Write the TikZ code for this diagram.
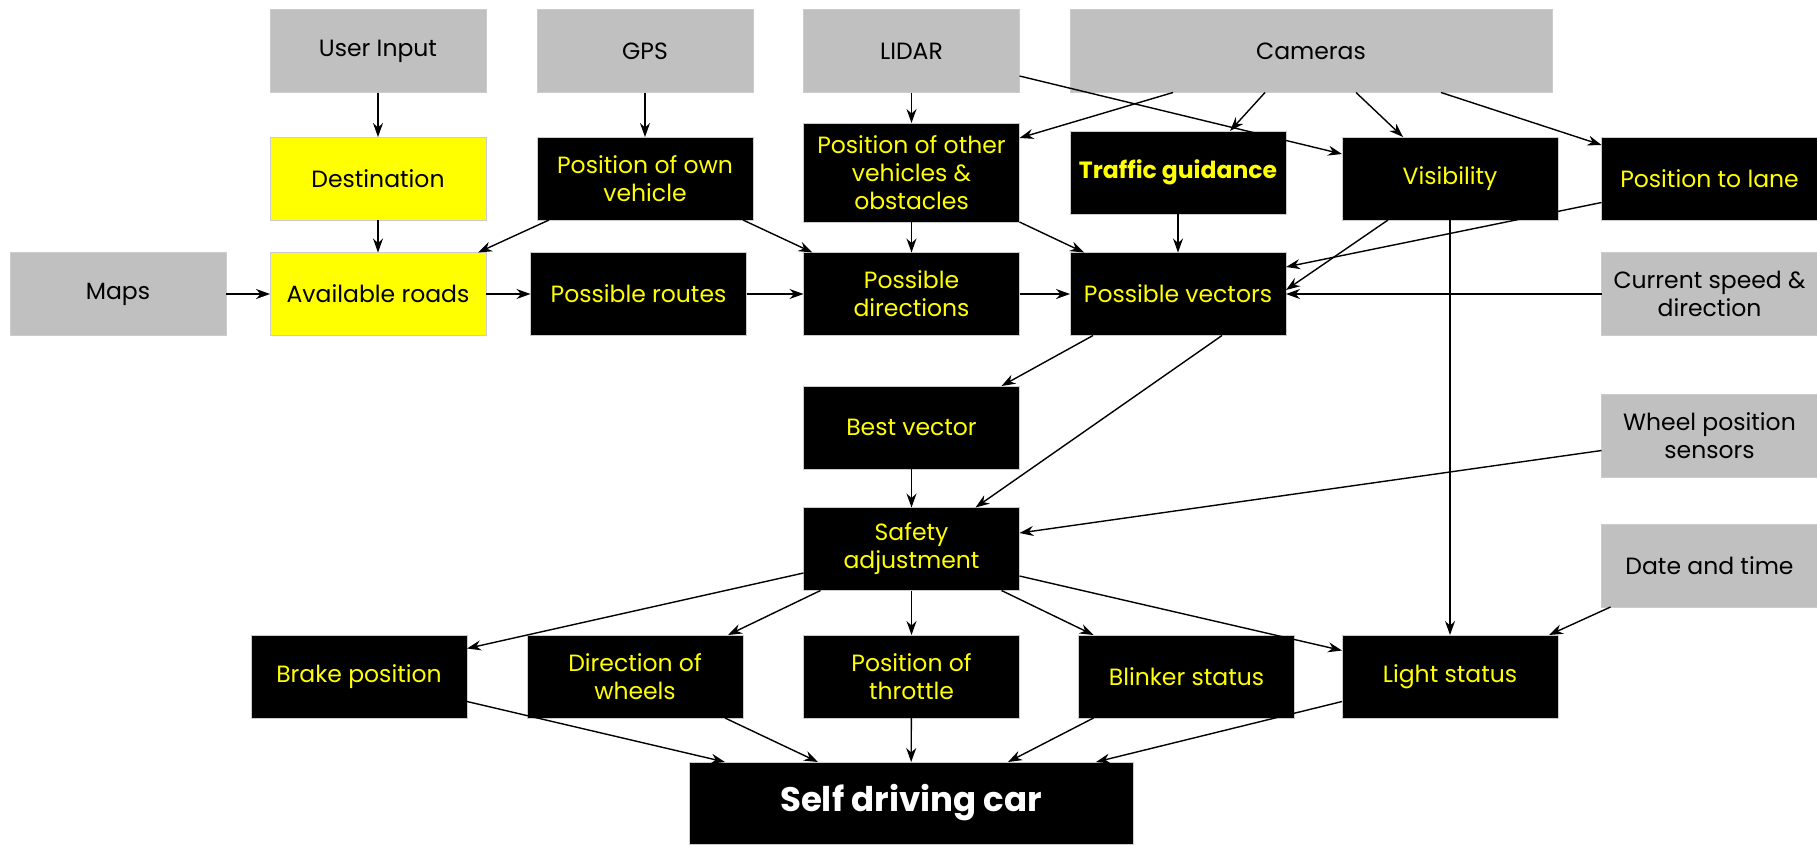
\documentclass[tikz,border=0pt]{standalone}
\usepackage{fontspec}
\setmainfont{Poppins}
\usepackage{xcolor}
\usetikzlibrary{
    arrows.meta,
    shapes,
    positioning,
    calc
}
\definecolor{boxgray}{HTML}{C0C0C0}
\definecolor{boxyellow}{HTML}{FFFF00}
\definecolor{textyellow}{HTML}{FFFF00}

\begin{document}
\begin{tikzpicture}[x=1pt, y=-1pt, >={Stealth[length=14pt, width=10pt]}, line width=1.4pt,
    box/.style={
        rectangle, minimum width=216pt, minimum height=83pt, inner sep=0pt, outer sep=0pt,
        align=center, draw=gray!40, line width=0.6pt, font=\fontsize{23.5}{28}\selectfont},
    in-node/.style={box, fill=boxgray, text=black},
    goal-node/.style={box, fill=boxyellow, text=black},
    mid-node/.style={box, fill=black, text=textyellow}]
    \useasboundingbox (0,0) rectangle (1817,844);
    \node[in-node] (userin) at (378,51) {User Input};
    \node[in-node] (gps) at (645,51) {GPS};
    \node[in-node] (lidar) at (911.5,51) {LIDAR};
    \node[in-node, minimum width=482pt] (cams) at (1311,51) {Cameras};
    \node[goal-node] (dest) at (378,178.5) {Destination};
    \node[mid-node] (ownpos) at (645,178.5) {Position of own\\vehicle};
    \node[mid-node, minimum height=99pt] (otherpos) at (911.5,172.5) {Position of other\\vehicles \&\\obstacles};
    \node[mid-node, font=\fontsize{23.5}{28}\selectfont\bfseries] (traffic) at (1178,172.5) {Traffic guidance};
    \node[mid-node] (visib) at (1450,178.5) {Visibility};
    \node[mid-node] (lanepos) at (1709.5,178.5) {Position to lane};
    \node[in-node] (maps) at (118,294) {Maps};
    \node[goal-node] (roads) at (378,294) {Available roads};
    \node[mid-node] (routes) at (638.5,294) {Possible routes};
    \node[mid-node] (dirs) at (911.5,294) {Possible\\directions};
    \node[mid-node] (vectors) at (1178,294) {Possible vectors};
    \node[in-node] (speed) at (1709.5,294) {Current speed \&\\direction};
    \node[mid-node] (best) at (911.5,427.5) {Best vector};
    \node[in-node] (wheelsens) at (1709.5,435.5) {Wheel position\\sensors};
    \node[mid-node] (safety) at (911.5,549) {Safety\\adjustment};
    \node[in-node] (datetime) at (1709.5,565.5) {Date and time};
    \node[mid-node] (brake) at (359,676.5) {Brake position};
    \node[mid-node] (dirwheels) at (635,676.5) {Direction of\\wheels};
    \node[mid-node] (throttle) at (911.5,676.5) {Position of\\throttle};
    \node[mid-node] (blinker) at (1186.5,676.5) {Blinker status};
    \node[mid-node] (light) at (1450,676.5) {Light status};
    \node[box, fill=black, text=white, minimum width=444pt, minimum height=82pt,
        font=\fontsize{34}{40}\selectfont\bfseries] (car) at (911,803) {Self driving car};

    \draw [->] (userin) -- (dest);
    \draw [->] (gps) -- (ownpos);
    \draw [->] (lidar) -- (otherpos);
    \draw [->] (dest) -- (roads);
    \draw [->] (maps) -- (roads);
    \draw [->] (roads) -- (routes);
    \draw [->] (routes) -- (dirs);
    \draw [->] (otherpos) -- (dirs);
    \draw [->] (dirs) -- (vectors);
    \draw [->] (traffic) -- (vectors);
    \draw [->] (speed) -- (vectors);
    \draw [->] ([xshift=12pt]ownpos.south west) -- ([xshift=-8pt]roads.north east);
    \draw [->] ([xshift=-10pt]ownpos.south east) -- ([xshift=9pt]dirs.north west);
    \draw [->] (otherpos.south east) -- ([xshift=14pt]vectors.north west);
    \draw [->] ([yshift=-25pt]lidar.east) -- ([yshift=-17pt]visib.north west);
    \draw [->] ([xshift=103pt]cams.south west) -- ([yshift=-15pt]otherpos.north east);
    \draw [->] ([xshift=195pt]cams.south west) -- ([xshift=52pt]traffic.north);
    \draw [->] ([xshift=286pt]cams.south west) -- ([xshift=-47pt]visib.north);
    \draw [->] ([xshift=371pt]cams.south west) -- ([yshift=-8pt]lanepos.north west);
    \draw [->] ([xshift=-62pt]visib.south) -- ([yshift=4pt]vectors.east);
    \draw [->] ([yshift=-24pt]lanepos.west) -- ([yshift=27pt]vectors.east);
    \draw [->] (visib) -- (light);
    \draw [->] ([xshift=23pt]vectors.south west) -- ([xshift=-18pt]best.north east);
    \draw [->] ([xshift=44pt]vectors.south) -- ([xshift=-44pt]safety.north east);
    \draw [->] (best) -- (safety);
    \draw [->] ([yshift=-15pt]wheelsens.west) -- ([yshift=16pt]safety.east);
    \draw [->] ([yshift=-24pt]safety.west) -- ([yshift=28pt]brake.east);
    \draw [->] ([xshift=17pt]safety.south west) -- ([xshift=-15pt]dirwheels.north east);
    \draw [->] (safety) -- (throttle);
    \draw [->] ([xshift=-18pt]safety.south east) -- ([xshift=15pt]blinker.north west);
    \draw [->] ([yshift=-27pt]safety.east) -- ([yshift=26pt]light.west);
    \draw [->] ([xshift=9pt]datetime.south west) -- ([xshift=-9pt]light.north east);
    \draw [->] (throttle) -- (car);
    \draw [->] ([yshift=-25pt]brake.east) -- ([xshift=36pt]car.north west);
    \draw [->] ([xshift=-18pt]dirwheels.south east) -- ([xshift=129pt]car.north west);
    \draw [->] ([xshift=15pt]blinker.south west) -- ([xshift=97pt]car.north);
    \draw [->] ([yshift=-25pt]light.west) -- ([xshift=185pt]car.north);
\end{tikzpicture}
\end{document}
